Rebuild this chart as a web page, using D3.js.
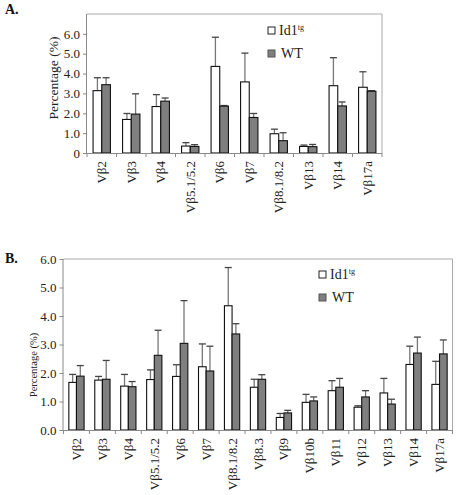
<!DOCTYPE html>
<html><head><meta charset="utf-8">
<script src="https://cdn.jsdelivr.net/npm/d3@7"></script>
<style>body{margin:0;background:#fff}svg{display:block}</style>
</head><body>
<svg id="c" width="456" height="495"></svg>
<script>
// Panel A data
const catsA = ["Vβ2","Vβ3","Vβ4","Vβ5.1/5.2","Vβ6","Vβ7","Vβ8.1/8.2","Vβ13","Vβ14","Vβ17a"];
const id1A = [3.14,1.69,2.34,0.35,4.36,3.58,0.97,0.33,3.39,3.31];
const id1ErrA = [3.79,1.99,2.94,0.52,5.83,5.03,1.20,0.40,4.80,4.09];
const wtA = [3.44,1.96,2.61,0.33,2.36,1.79,0.62,0.32,2.37,3.11];
const wtErrA = [3.79,2.98,2.77,0.42,2.39,1.99,1.02,0.43,2.57,3.14];
const ticksA = ["0","1.0","2.0","3.0","4.0","5.0","6.0"];
// Panel B data
const catsB = ["Vβ2","Vβ3","Vβ4","Vβ5.1/5.2","Vβ6","Vβ7","Vβ8.1/8.2","Vβ8.3","Vβ9","Vβ10b","Vβ11","Vβ12","Vβ13","Vβ14","Vβ17a"];
const id1B = [1.67,1.75,1.54,1.77,1.88,2.22,4.36,1.50,0.44,0.97,1.38,0.80,1.30,2.30,1.60];
const id1ErrB = [1.95,1.88,1.95,2.11,2.29,3.02,5.70,1.78,0.58,1.25,1.73,0.85,1.81,2.94,2.41];
const wtB = [1.89,1.78,1.52,2.62,3.04,2.07,3.37,1.78,0.60,1.02,1.50,1.16,0.91,2.70,2.67];
const wtErrB = [2.26,2.44,1.70,3.50,4.54,2.94,3.73,1.94,0.69,1.16,1.81,1.38,1.08,3.26,3.16];
const ticksB = ["0.0","1.0","2.0","3.0","4.0","5.0","6.0"];
const seriesNames = ["Id1","WT"];

const FONT = "'Liberation Serif', 'DejaVu Serif', serif";
const svg = d3.select("#c");
const AX = "#8a8a8a";

function panel(o){
  const g = svg.append("g").attr("font-family", FONT);
  const x = d3.scaleBand().domain(o.cats).range([o.x0, o.x1]).padding(0);
  const xs = d3.scaleBand().domain(seriesNames).range([0, x.bandwidth()]).paddingOuter(0.7).paddingInner(0);
  const y = d3.scaleLinear().domain([0, o.ymax]).range([o.y0, o.y1]);
  g.append("path").attr("d", `M${o.x0},${o.y1}H${o.x1}V${o.y0}`).attr("fill","none").attr("stroke","#aaa").attr("stroke-width",1);
  const yAx = d3.axisLeft(y).tickValues(d3.range(o.ticks.length)).tickFormat((d,i)=>o.ticks[i]).tickSize(4).tickPadding(3);
  const ya = g.append("g").attr("transform",`translate(${o.x0},0)`).call(yAx).attr("font-family", FONT);
  ya.select(".domain").attr("stroke",AX).attr("d",`M-0.5,${o.y0}V${o.y1}`);
  ya.selectAll(".tick line").attr("stroke",AX);
  ya.selectAll("text").attr("font-size",13).attr("fill","#222").style("font-family", FONT);
  const data = o.cats.map((c,i)=>({c, vals:[{s:"Id1",v:o.id1[i],e:o.id1Err[i]},{s:"WT",v:o.wt[i],e:o.wtErr[i]}]}));
  const cg = g.selectAll(".cat").data(data).join("g").attr("transform",d=>`translate(${x(d.c)},0)`);
  const b = cg.selectAll(".b").data(d=>d.vals).join("g");
  b.append("line").attr("x1",d=>xs(d.s)+xs.bandwidth()/2).attr("x2",d=>xs(d.s)+xs.bandwidth()/2)
    .attr("y1",d=>y(d.v)).attr("y2",d=>y(d.e)).attr("stroke","#777").attr("stroke-width",1.3);
  b.append("line").attr("x1",d=>xs(d.s)+xs.bandwidth()/2-3.5).attr("x2",d=>xs(d.s)+xs.bandwidth()/2+3.5)
    .attr("y1",d=>y(d.e)).attr("y2",d=>y(d.e)).attr("stroke","#444").attr("stroke-width",1.3);
  b.append("rect").attr("x",d=>xs(d.s)).attr("width",xs.bandwidth())
    .attr("y",d=>y(d.v)).attr("height",d=>o.y0-y(d.v))
    .attr("fill",d=>d.s==="WT"?"#7f7f7f":"#fff").attr("stroke","#111").attr("stroke-width",1.1);
  g.append("line").attr("x1",o.x0).attr("x2",o.x1).attr("y1",o.y0+0.5).attr("y2",o.y0+0.5).attr("stroke",AX);
  g.selectAll(".xt").data(d3.range(o.cats.length+1)).join("line")
    .attr("x1",i=>o.x0+i*x.bandwidth()).attr("x2",i=>o.x0+i*x.bandwidth())
    .attr("y1",o.y0).attr("y2",o.y0+4).attr("stroke",AX);
  g.selectAll(".xl").data(o.cats).join("text")
    .attr("transform",d=>`translate(${x(d)+x.bandwidth()/2+4.5},${o.y0+8}) rotate(-90)`)
    .attr("text-anchor","end").attr("font-size",13).attr("fill","#222").style("font-family", FONT).text(d=>d);
  g.append("text").attr("transform",`translate(${o.titleX},${o.titleY}) rotate(-90)`)
    .attr("text-anchor","middle").attr("font-size",o.titleSize).attr("fill","#222").style("font-family", FONT).text("Percentage (%)");
  g.append("text").attr("x",5).attr("y",o.labelY).attr("font-size",14).attr("font-weight","bold").attr("fill","#111").style("font-family", FONT).text(o.label);
  const lg = g.append("g").attr("transform",`translate(${o.legX},${o.legY})`);
  lg.append("rect").attr("x",0).attr("y",-8).attr("width",7).attr("height",7).attr("fill","#fff").attr("stroke","#222");
  const t1 = lg.append("text").attr("x",11).attr("y",0).attr("font-size",14).attr("fill","#222").style("font-family", FONT);
  t1.append("tspan").text("Id1");
  t1.append("tspan").attr("dy",-5).attr("font-size",8).text("tg");
  lg.append("rect").attr("x",0).attr("y",o.legGap-8).attr("width",7).attr("height",7).attr("fill","#7f7f7f").attr("stroke","#555");
  lg.append("text").attr("x",13).attr("y",o.legGap).attr("font-size",14).attr("fill","#222").style("font-family", FONT).text("WT");
}

panel({cats:catsA,id1:id1A,id1Err:id1ErrA,wt:wtA,wtErr:wtErrA,ticks:ticksA,
  x0:87,x1:382,y0:153,y1:14,ymax:7,titleX:58,titleY:78,titleSize:13.5,label:"A.",labelY:14,
  legX:268,legY:35,legGap:23});
panel({cats:catsB,id1:id1B,id1Err:id1ErrB,wt:wtB,wtErr:wtErrB,ticks:ticksB,
  x0:63.5,x1:452.5,y0:430,y1:259,ymax:6,titleX:37,titleY:365,titleSize:10.5,label:"B.",labelY:263,
  legX:319,legY:279,legGap:23});
</script>
</body></html>
